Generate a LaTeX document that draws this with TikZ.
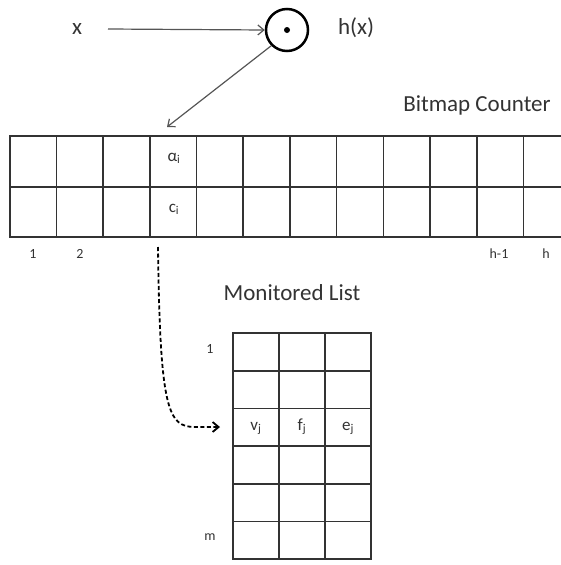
\documentclass[tikz,border=0pt]{standalone}
\usepackage{fontspec}
\setmainfont{Carlito}
\usetikzlibrary{arrows.meta}
\definecolor{ink}{HTML}{333333}
\definecolor{arr}{HTML}{555555}
\tikzset{
  bcell/.style={draw=ink, line width=1.6pt, minimum width=46.7pt, minimum height=50.5pt, inner sep=0pt},
  mcell/.style={draw=ink, line width=1.6pt, minimum width=46pt, minimum height=37.7pt, inner sep=0pt},
  lbl/.style={text=ink, font=\fontsize{23}{26}\selectfont, inner sep=0pt, anchor=base},
  small/.style={text=ink, font=\fontsize{14}{16}\selectfont, inner sep=0pt, anchor=base},
  celltxt/.style={text=ink, font=\fontsize{17}{19}\selectfont, inner sep=0pt, anchor=base},
  thinarrow/.style={draw=arr, line width=1.2pt, -{Straight Barb[length=6pt,width=10pt]}},
}
\begin{document}
\begin{tikzpicture}[x=1pt,y=-1pt]
\useasboundingbox (0,0) rectangle (561,565);
\clip (0,0) rectangle (561,565);
% top
\node[lbl] (x) at (77,34) {x};
\node[draw=black, circle, line width=2.5pt, minimum size=42pt, inner sep=0pt] (h) at (287,30) {};
\node[circle, fill=black, minimum size=6pt, inner sep=0pt] (dot) at (287,30) {};
\node[lbl] (hx) at (356,34) {h(x)};
\node[lbl] (bc) at (477,111) {Bitmap Counter};
\draw[thinarrow] (108,29) coordinate (xs) -- (h.west);
\coordinate (tip) at (167,127);
\draw[thinarrow] (h.225) -- (tip);
% bitmap counter
\foreach \i in {1,...,12} {
  \node[bcell] (a\i) at ({9.7+46.7*(\i-0.5)},161.5) {};
  \node[bcell] (c\i) at ({9.7+46.7*(\i-0.5)},212) {};
}
\node[celltxt] (alpha) at (174,161) {α\textsubscript{i}};
\node[celltxt] (ci) at (174,212) {c\textsubscript{i}};
\node[small] (n1) at (33,258.5) {1};
\node[small] (n2) at (80,258.5) {2};
\node[small] (nh1) at (499,258.5) {h-1};
\node[small] (nh) at (546,258.5) {h};
% monitored list
\node[lbl] (ml) at (292,300) {Monitored List};
\foreach \r in {1,...,6} {
  \foreach \c in {1,2,3} {
    \node[mcell] (m\r\c) at ({233+46*(\c-0.5)},{333+37.7*(\r-0.5)}) {};
  }
}
\node[celltxt] (vj) at (m31.center) [yshift=-3pt] {v\textsubscript{j}};
\node[celltxt] (fj) at (m32.center) [yshift=-3pt] {f\textsubscript{j}};
\node[celltxt] (ej) at (m33.center) [yshift=-3pt] {e\textsubscript{j}};
\node[small] (r1) at (210,353) {1};
\node[small] (rm) at (210,540) {m};
% dashed link
\coordinate (ds) at (158,247);
\coordinate (de) at (220,427);
\draw[black, line width=1.8pt, dashed, dash pattern=on 4pt off 2.5pt, -{Straight Barb[length=6pt,width=10pt]}]
  (ds) .. controls (160,410) and (168,427) .. (195,427) -- (de);
\end{tikzpicture}
\end{document}
